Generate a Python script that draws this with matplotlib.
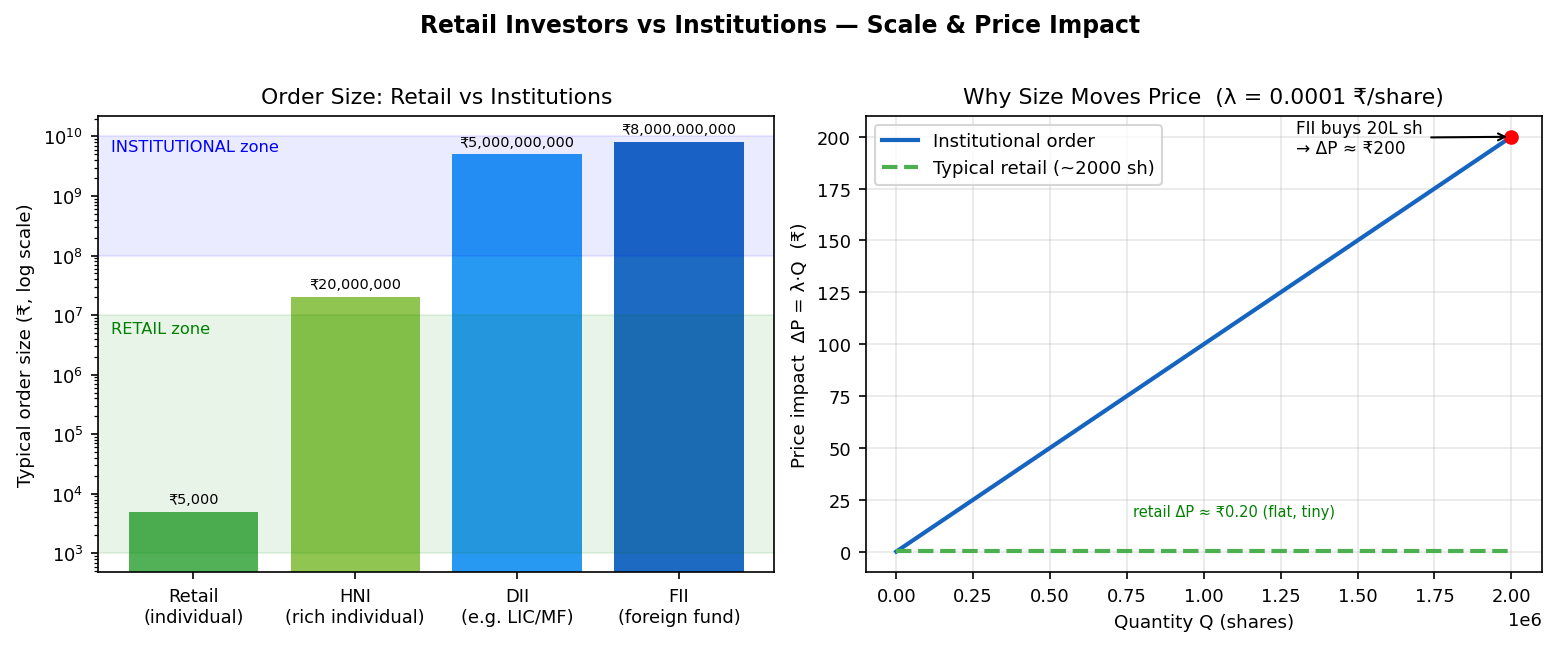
import numpy as np
import matplotlib
matplotlib.use("Agg")
import matplotlib.pyplot as plt

categories = ["Retail\n(individual)", "HNI\n(rich individual)", "DII\n(e.g. LIC/MF)", "FII\n(foreign fund)"]
order_sizes = [5000, 20_000_000, 5_000_000_000, 8_000_000_000]
bar_colors = ["#4CAF50", "#8BC34A", "#2196F3", "#1565C0"]

lam = 0.0001
q_max = 2_000_000
retail_q = 2000

plt.rcParams["font.size"] = 8.8
plt.rcParams["xtick.labelsize"] = 8.6
plt.rcParams["ytick.labelsize"] = 8.6

fig, (ax1, ax2) = plt.subplots(1, 2, figsize=(10.4, 4.333), dpi=150)
fig.subplots_adjust(left=0.0628, right=0.9885, top=0.82, bottom=0.118, wspace=0.1346)
fig.suptitle("Retail Investors vs Institutions — Scale & Price Impact", fontsize=11.3, fontweight="bold", y=0.978)

# Left
x = np.arange(len(categories))
ax1.bar(x, order_sizes, color=bar_colors, alpha=0.97, width=0.8)
ax1.axhspan(1e3, 1e7, color="green", alpha=0.085)
ax1.axhspan(1e8, 1e10, color="blue", alpha=0.08)
ax1.set_yscale("log")
ax1.set_ylim(480, 2.2e10)
ax1.set_xticks(x)
ax1.set_xticklabels(categories)
for xi, v in zip(x, order_sizes):
    ax1.text(xi, v * 1.25, f"₹{v:,}", ha="center", va="bottom", fontsize=6.9)
ax1.text(-0.51, 4.5e6, "RETAIL zone", color="green", fontsize=7.8, va="bottom")
ax1.text(-0.51, 5.0e9, "INSTITUTIONAL zone", color="blue", fontsize=7.8, va="bottom")
ax1.set_ylabel("Typical order size (₹, log scale)")
ax1.set_title("Order Size: Retail vs Institutions", fontsize=10.5)

# Right
q = np.linspace(0, q_max, 200)
ax2.plot(q, lam * q, color="#1565C0", lw=2, label="Institutional order")
ax2.plot(q, np.full_like(q, lam * retail_q), color="#4CAF50", lw=2, ls="--", label="Typical retail (~2000 sh)")
ax2.plot([q_max], [lam * q_max], "o", color="red", ms=6)
ax2.annotate("FII buys 20L sh\n→ ΔP ≈ ₹200", xy=(q_max, lam * q_max), xytext=(1.3e6, 192),
             fontsize=8.2, arrowprops=dict(arrowstyle="->", color="black"))
ax2.text(0.77e6, 17, "retail ΔP ≈ ₹0.20 (flat, tiny)", color="green", fontsize=7.0)
ax2.set_xlabel("Quantity Q (shares)")
ax2.set_ylabel("Price impact  ΔP = λ·Q  (₹)")
ax2.set_title("Why Size Moves Price  (λ = 0.0001 ₹/share)", fontsize=10.5)
ax2.grid(alpha=0.3)
ax2.legend(loc="upper left", fontsize=8.7)

fig.savefig("out.png", dpi=150)
